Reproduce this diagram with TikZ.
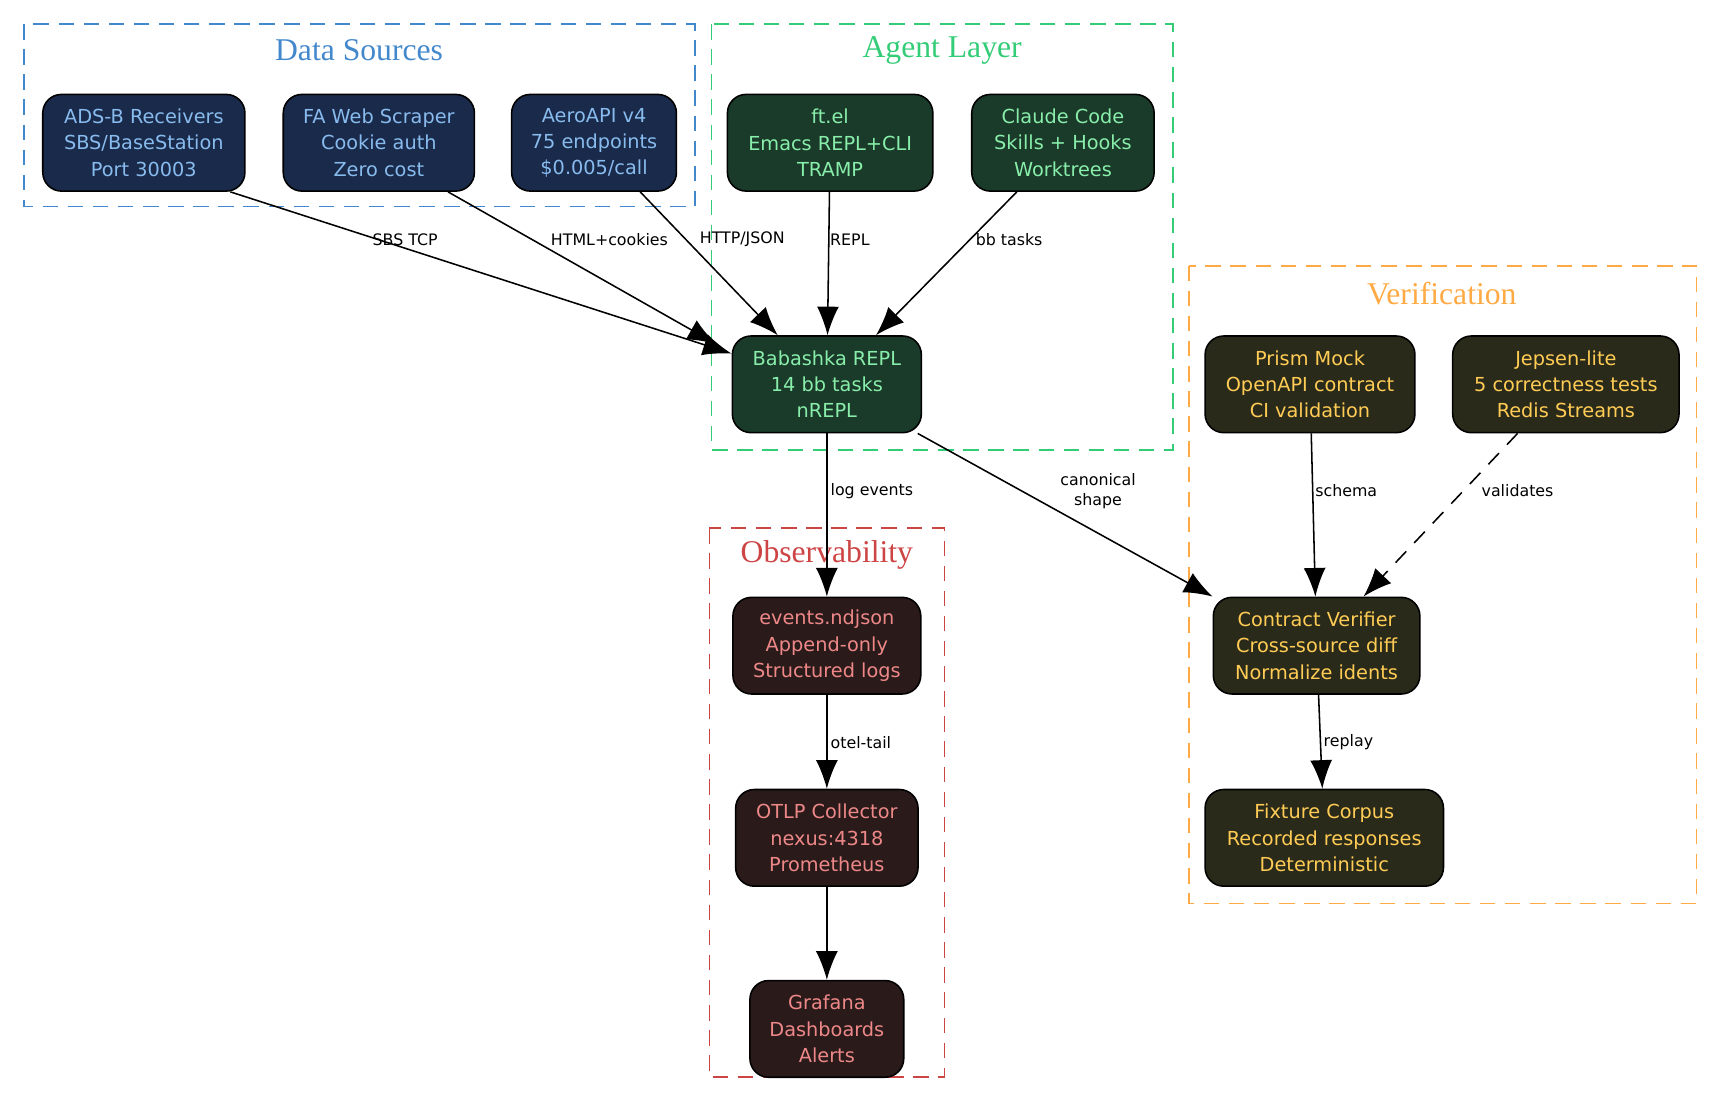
\documentclass[tikz,border=0pt]{standalone}
\usepackage{fontspec}
\setmainfont{Liberation Serif}
\newfontfamily\nodefont{DejaVu Sans}
\usetikzlibrary{arrows.meta,calc}
\definecolor{dsline}{HTML}{4488CC}
\definecolor{agline}{HTML}{33CC77}
\definecolor{veline}{HTML}{FFAA44}
\definecolor{obline}{HTML}{CC4444}
\definecolor{dsfill}{HTML}{1A2A4A}
\definecolor{dstext}{HTML}{88BBEE}
\definecolor{agfill}{HTML}{1A3A2A}
\definecolor{agtext}{HTML}{88EEAA}
\definecolor{vefill}{HTML}{2A2A1A}
\definecolor{vetext}{HTML}{FFCC55}
\definecolor{obfill}{HTML}{2A1A1A}
\definecolor{obtext}{HTML}{EE8888}
\tikzset{
  box/.style={draw=black, rounded corners=0.17cm, minimum height=0.88cm, align=center,
    inner sep=1pt, font=\nodefont\fontsize{5}{6.8}\selectfont},
  ds/.style={box, fill=dsfill, text=dstext},
  ag/.style={box, fill=agfill, text=agtext},
  ve/.style={box, fill=vefill, text=vetext},
  ob/.style={box, fill=obfill, text=obtext},
  cluster/.style={dashed, dash pattern=on 4pt off 2.5pt, thin},
  title/.style={font=\fontsize{8.2}{10}\selectfont},
  lab/.style={font=\nodefont\fontsize{4.1}{5.2}\selectfont, text=black, align=center, inner sep=1pt},
  edge/.style={-{Latex[length=2.6mm,width=2mm]}, thin}
}
\begin{document}
\begin{tikzpicture}[x=0.01cm,y=-0.01cm]
	\useasboundingbox (0,0) rectangle (1560,1000);
	% clusters
	\draw[cluster, dsline] (22,22) rectangle (633,188);
	\node[title, text=dsline] (dstitle) at (327,46) {Data Sources};
	\draw[cluster, agline] (648,22) rectangle (1068,410);
	\node[title, text=agline] (agtitle) at (858,46) {Agent Layer};
	\draw[cluster, veline] (1083,242) rectangle (1545,823);
	\node[title, text=veline] (vetitle) at (1313,267) {Verification};
	\draw[cluster, obline] (646,481) rectangle (860,981);
	\node[title, text=obline] (obtitle) at (753,505) {Observability};
	% nodes
	\node[ds, minimum width=1.84cm] (adsb) at (131,130) {ADS-B Receivers\\SBS/BaseStation\\Port 30003};
	\node[ds, minimum width=1.74cm] (scraper) at (345,130) {FA Web Scraper\\Cookie auth\\Zero cost};
	\node[ds, minimum width=1.5cm] (aeroapi) at (541,130) {AeroAPI v4\\75 endpoints\\\$0.005/call};
	\node[ag, minimum width=1.87cm] (ftel) at (756,130) {ft.el\\Emacs REPL+CLI\\TRAMP};
	\node[ag, minimum width=1.66cm] (claude) at (968,130) {Claude Code\\Skills + Hooks\\Worktrees};
	\node[ag, minimum width=1.72cm] (bb) at (753,350) {Babashka REPL\\14 bb tasks\\nREPL};
	\node[ve, minimum width=1.91cm] (prism) at (1193,350) {Prism Mock\\OpenAPI contract\\CI validation};
	\node[ve, minimum width=2.06cm] (jepsen) at (1426,350) {Jepsen-lite\\5 correctness tests\\Redis Streams};
	\node[ve, minimum width=1.88cm] (verifier) at (1199,588) {Contract Verifier\\Cross-source diff\\Normalize idents};
	\node[ve, minimum width=2.17cm] (fixture) at (1206,763) {Fixture Corpus\\Recorded responses\\Deterministic};
	\node[ob, minimum width=1.71cm] (events) at (753,588) {events.ndjson\\Append-only\\Structured logs};
	\node[ob, minimum width=1.66cm] (otlp) at (753,763) {OTLP Collector\\nexus:4318\\Prometheus};
	\node[ob, minimum width=1.4cm] (grafana) at (753,937) {Grafana\\Dashboards\\Alerts};
	% edge ends
	\coordinate (adsbout) at ($(adsb.south east)+(-14,0)$);
	\coordinate (scrapout) at ($(scraper.south)+(63,0)$);
	\coordinate (aeroout) at ($(aeroapi.south)+(42,0)$);
	\coordinate (claudeout) at ($(claude.south)+(-42,0)$);
	\coordinate (bbin1) at ($(bb.west)+(0,-28)$);
	\coordinate (bbin2) at ($(bb.north west)+(-14,8)$);
	\coordinate (bbin3) at ($(bb.north west)+(42,0)$);
	\coordinate (bbin5) at ($(bb.north east)+(-42,0)$);
	\coordinate (bbout) at ($(bb.south east)+(-4,0)$);
	\coordinate (jepout) at ($(jepsen.south)+(-44,0)$);
	\coordinate (verin1) at ($(verifier.north west)+(0,0)$);
	\coordinate (verin3) at ($(verifier.north east)+(-52,0)$);
	% edges
	\draw[edge] (adsbout) -- (bbin1);
	\draw[edge] (scrapout) -- (bbin2);
	\draw[edge] (aeroout) -- (bbin3);
	\draw[edge] (ftel) -- (bb);
	\draw[edge] (claudeout) -- (bbin5);
	\draw[edge] (bb) -- (events);
	\draw[edge] (bbout) -- (verin1);
	\draw[edge] (prism) -- (verifier);
	\draw[edge, dashed, dash pattern=on 4pt off 3pt] (jepout) -- (verin3);
	\draw[edge] (verifier) -- (fixture);
	\draw[edge] (events) -- (otlp);
	\draw[edge] (otlp) -- (grafana);
	% edge labels
	\node[lab] (l1) at (369,218) {SBS TCP};
	\node[lab] (l2) at (555,218) {HTML+cookies};
	\node[lab] (l3) at (676,218) {HTTP/JSON};
	\node[lab] (l4) at (774,218) {REPL};
	\node[lab] (l5) at (919,218) {bb tasks};
	\node[lab] (l6) at (794,447) {log events};
	\node[lab] (l7) at (1000,447) {canonical\\shape};
	\node[lab] (l8) at (1226,447) {schema};
	\node[lab] (l9) at (1382,447) {validates};
	\node[lab] (l10) at (784,676) {otel-tail};
	\node[lab] (l11) at (1228,676) {replay};
\end{tikzpicture}
\end{document}
